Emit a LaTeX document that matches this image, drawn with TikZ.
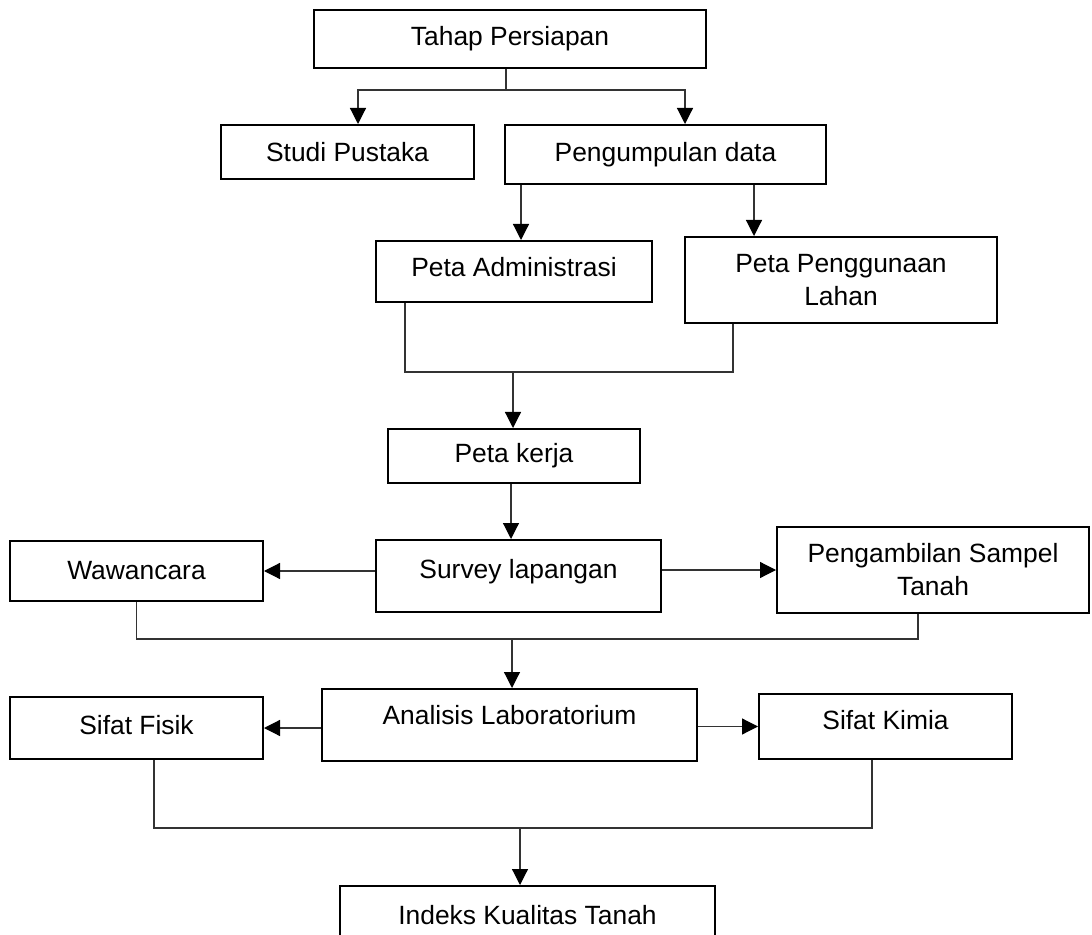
\documentclass[tikz,border=0pt]{standalone}
\usepackage{fontspec}
\setmainfont{Liberation Sans}
\usetikzlibrary{arrows.meta,positioning,calc}

\begin{document}
\begin{tikzpicture}[
    x=0.5pt, y=-0.5pt,
    box/.style={rectangle, draw, line width=1pt, inner sep=0pt, align=center, font=\fontsize{13.2}{16.5}\selectfont},
    link/.style={draw=black!80, line width=0.6pt},
    arrow/.style={link, -{Triangle[length=8pt,width=8pt,color=black]}}
]
\useasboundingbox (0,0) rectangle (1092,935);

% Boxes, top to bottom
\node[box, minimum width=196pt, minimum height=29pt] (tahap) at (510,39) {Tahap Persiapan};
\node[box, minimum width=126.5pt, minimum height=27pt] (studi) at (347.5,152) {Studi Pustaka};
\node[box, minimum width=160.5pt, minimum height=29.5pt] (kumpul) at (665.5,154.5) {Pengumpulan data};
\node[box, minimum width=138pt, minimum height=30.5pt, text depth=4.5pt] (admin) at (514,271.5) {Peta Administrasi};
\node[box, minimum width=156pt, minimum height=43pt] (guna) at (841,280) {Peta Penggunaan\\Lahan};
\node[box, minimum width=126pt, minimum height=27pt] (kerja) at (514,456) {Peta kerja};
\node[box, minimum width=142.5pt, minimum height=36pt, text depth=7pt] (survey) at (518.5,576) {Survey lapangan};
\node[box, minimum width=126.5pt, minimum height=30pt] (wawancara) at (136.5,571) {Wawancara};
\node[box, minimum width=156pt, minimum height=43pt] (sampel) at (933,570) {Pengambilan Sampel\\Tanah};
\node[box, minimum width=187.5pt, minimum height=36pt, text depth=10pt] (analisis) at (509.5,725) {Analisis Laboratorium};
\node[box, minimum width=126.5pt, minimum height=31pt, text depth=3pt] (fisik) at (136.5,728) {Sifat Fisik};
\node[box, minimum width=126.5pt, minimum height=32.5pt, text depth=6.4pt] (kimia) at (885.5,726.5) {Sifat Kimia};
\node[box, minimum width=187.5pt, minimum height=29pt] (indeks) at (527.5,915) {Indeks Kualitas Tanah};

% Junctions of the joining lines
\coordinate (split) at (506,90);
\coordinate (merge1) at (513,372);
\coordinate (merge2) at (512,639);
\coordinate (merge3) at (520,828);

% Tahap Persiapan splits in two
\draw[link] (tahap.south -| split) -- (split);
\draw[arrow] (split) -| ([xshift=5.25pt]studi.north);
\draw[arrow] (split) -| ([xshift=9.75pt]kumpul.north);

% Pengumpulan data to both maps
\draw[arrow] ([xshift=-72.25pt]kumpul.south) coordinate (a) -- (a |- admin.north);
\draw[arrow] ([xshift=44.25pt]kumpul.south) coordinate (b) -- (b |- guna.north);

% Maps join into Peta kerja
\draw[link] ([xshift=-54.5pt]admin.south) |- (merge1) -| ([xshift=-54pt]guna.south);
\draw[arrow] (merge1) -- (merge1 |- kerja.north);
\draw[arrow] ([xshift=-1.5pt]kerja.south) coordinate (c) -- (c |- survey.north);

% Survey lapangan
\draw[arrow] (wawancara.east -| survey.west) -- (wawancara.east);
\draw[arrow] (sampel.west -| survey.east) -- (sampel.west);
\draw[link] (wawancara.south) |- (merge2) -| ([xshift=-7.5pt]sampel.south);
\draw[arrow] (merge2) -- (merge2 |- analisis.north);

% Analisis Laboratorium
\draw[arrow] (fisik.east -| analisis.west) -- (fisik.east);
\draw[arrow] (kimia.west -| analisis.east) -- (kimia.west);
\draw[link] ([xshift=8.75pt]fisik.south) |- (merge3) -| ([xshift=-6.75pt]kimia.south);
\draw[arrow] (merge3) -- (merge3 |- indeks.north);

\end{tikzpicture}
\end{document}
